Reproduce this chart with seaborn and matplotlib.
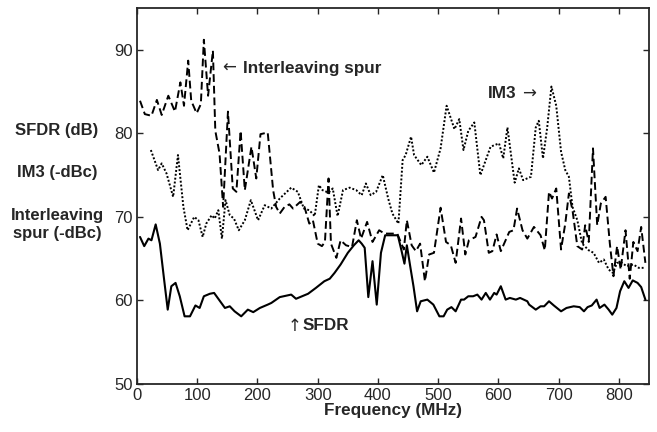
import matplotlib
matplotlib.use("Agg")
from matplotlib import pyplot as plt
import seaborn as sns
import pandas as pd

# Interleaving spur (dashed)
spur_freq = [5, 13, 24, 33, 41, 52, 63, 72, 78, 85, 90, 99, 106, 111, 118, 126, 130, 137, 143, 151,
             159, 165, 172, 179, 190, 198, 205, 217, 226, 231, 237, 245, 253, 259, 271, 278, 286, 292,
             300, 307, 312, 318, 322, 331, 338, 347, 357, 365, 372, 382, 391, 402, 411, 432, 443, 448,
             456, 463, 470, 478, 485, 493, 504, 513, 521, 529, 538, 545, 551, 562, 572, 576, 584, 590,
             597, 604, 618, 625, 631, 640, 648, 659, 670, 677, 684, 689, 696, 704, 711, 717, 723, 731,
             739, 744, 750, 757, 764, 770, 778, 785, 791, 797, 803, 811, 818, 824, 831, 837, 844]
spur_db = [83.9, 82.3, 82.1, 84.0, 82.2, 84.5, 82.6, 86.1, 83.3, 88.7, 83.9, 82.4, 83.5, 91.2, 84.5,
           89.9, 80.3, 77.6, 71.2, 82.6, 73.4, 73.0, 80.3, 73.2, 78.4, 74.6, 79.9, 80.1, 73.2, 71.2,
           70.4, 71.2, 71.5, 71.0, 71.8, 71.2, 69.2, 69.6, 66.8, 66.5, 67.0, 74.6, 66.8, 65.1, 67.2,
           66.6, 66.4, 69.6, 67.4, 69.4, 67.0, 68.4, 68.0, 68.0, 66.1, 69.6, 66.6, 65.9, 66.8, 62.3,
           65.5, 65.7, 71.1, 67.0, 66.6, 64.5, 69.8, 65.5, 67.2, 67.6, 70.0, 69.6, 65.7, 65.9, 67.9,
           65.9, 68.2, 68.4, 71.0, 68.4, 67.4, 68.8, 67.8, 66.0, 73.0, 72.2, 73.4, 66.1, 69.2, 72.8,
           70.8, 66.5, 66.1, 69.0, 67.0, 78.2, 69.0, 71.6, 72.4, 66.8, 62.9, 66.5, 63.7, 68.4, 62.6,
           67.0, 65.9, 68.8, 64.5]

# IM3 (dotted)
im3_freq = [23, 35, 41, 49, 60, 68, 77, 84, 95, 102, 109, 115, 124, 129, 135, 141, 147, 154, 161, 169,
            179, 189, 201, 212, 223, 237, 256, 267, 277, 286, 295, 302, 308, 318, 325, 333, 342, 353,
            364, 373, 380, 388, 397, 408, 417, 424, 434, 441, 446, 455, 460, 472, 482, 493, 504, 514,
            527, 535, 542, 550, 560, 570, 587, 601, 608, 615, 627, 634, 641, 654, 662, 667, 674, 681,
            688, 696, 704, 711, 717, 723, 731, 739, 750, 758, 767, 775, 783, 790, 797, 805, 813, 824,
            833, 841]
im3_db = [78.0, 75.6, 76.4, 75.2, 72.4, 77.4, 71.2, 68.4, 70.0, 69.6, 67.6, 69.2, 70.2, 69.8, 70.8,
          67.4, 72.0, 70.2, 69.8, 68.4, 69.6, 72.0, 69.6, 71.4, 71.0, 72.2, 73.5, 73.0, 71.0, 70.8,
          70.1, 73.8, 73.2, 72.9, 73.4, 70.1, 73.2, 73.5, 73.2, 72.6, 74.0, 72.6, 73.0, 75.0, 72.2,
          70.4, 69.2, 76.8, 77.4, 79.6, 77.4, 76.2, 77.2, 75.3, 78.2, 83.3, 80.5, 81.7, 78.0, 80.3,
          81.3, 75.0, 78.4, 78.8, 77.0, 80.7, 74.1, 75.8, 74.4, 74.8, 80.7, 81.5, 77.0, 80.7, 85.6,
          83.3, 77.8, 75.6, 74.8, 71.2, 69.6, 66.8, 66.0, 65.7, 64.5, 64.9, 63.7, 63.3, 64.5, 64.5,
          64.1, 64.3, 63.9, 63.9]

# SFDR (solid)
sfdr_freq = [5, 12, 19, 24, 31, 38, 45, 51, 57, 64, 71, 79, 88, 97, 104, 111, 121, 128, 136, 146, 154,
             162, 173, 184, 193, 204, 217, 223, 237, 256, 264, 274, 284, 297, 311, 320, 328, 338, 350,
             360, 368, 373, 378, 384, 391, 398, 405, 412, 433, 439, 444, 448, 454, 459, 465, 471, 482,
             492, 502, 509, 515, 522, 529, 538, 543, 550, 558, 565, 572, 579, 586, 593, 597, 604, 612,
             619, 629, 636, 648, 651, 662, 670, 676, 684, 692, 704, 713, 725, 735, 742, 748, 755, 763,
             768, 776, 783, 789, 796, 802, 809, 816, 823, 831, 837, 844]
sfdr_db = [67.6, 66.5, 67.4, 67.2, 69.1, 66.8, 62.5, 58.9, 61.7, 62.1, 60.5, 58.1, 58.1, 59.4, 59.1,
           60.5, 60.8, 60.9, 60.1, 59.1, 59.3, 58.7, 58.1, 58.9, 58.6, 59.1, 59.5, 59.7, 60.4, 60.7,
           60.2, 60.5, 60.8, 61.5, 62.3, 62.6, 63.3, 64.3, 65.7, 66.6, 67.2, 66.8, 66.3, 60.4, 64.7,
           59.5, 65.7, 67.8, 67.8, 66.0, 64.4, 66.6, 63.9, 61.7, 58.7, 59.9, 60.1, 59.5, 58.1, 58.1,
           58.9, 59.2, 58.7, 60.1, 60.1, 60.5, 60.5, 60.7, 60.1, 60.9, 60.1, 60.9, 60.7, 61.7, 60.1,
           60.3, 60.1, 60.3, 59.9, 59.5, 58.9, 59.3, 59.3, 59.9, 59.4, 58.7, 59.1, 59.3, 59.2, 58.7,
           59.2, 59.4, 60.1, 59.1, 59.5, 58.9, 58.3, 59.1, 61.1, 62.3, 61.5, 62.4, 62.1, 61.6, 60.1]

x_ticks = [0, 100, 200, 300, 400, 500, 600, 700, 800]
y_ticks = [50, 60, 70, 80, 90]

sns.set_style("ticks")
plt.rcParams['font.family'] = ['Liberation Sans', 'DejaVu Sans']
plt.rcParams['xtick.direction'] = 'in'
plt.rcParams['ytick.direction'] = 'in'

fig = plt.figure(figsize=(6.57, 4.32), dpi=100)
ax = fig.add_axes([137 / 657, 48 / 432, 512 / 657, 376 / 432])

df_spur = pd.DataFrame({'freq': spur_freq, 'val': spur_db})
df_im3 = pd.DataFrame({'freq': im3_freq, 'val': im3_db})
df_sfdr = pd.DataFrame({'freq': sfdr_freq, 'val': sfdr_db})

sns.lineplot(data=df_spur, x='freq', y='val', ax=ax, color='black', lw=1.4, linestyle=(0, (4, 2)))
sns.lineplot(data=df_im3, x='freq', y='val', ax=ax, color='black', lw=1.4, linestyle=(0, (1, 1)))
sns.lineplot(data=df_sfdr, x='freq', y='val', ax=ax, color='black', lw=1.5, linestyle='-')

ax.set_xlim(0, 850)
ax.set_ylim(50, 95)
ax.set_xticks(x_ticks)
ax.set_yticks(y_ticks)
ax.tick_params(labelsize=12, length=4, width=1, top=True, right=True, pad=3)
for s in ax.spines.values():
    s.set_linewidth(1.3)
ax.set_xlabel('Frequency (MHz)', fontsize=12.3, fontweight='bold', labelpad=0)
ax.set_ylabel('')

# annotations: arrows drawn in DejaVu Sans, words in Liberation Sans
arrow_kw = dict(fontsize=12, family=['DejaVu Sans'], va='center', ha='left')
word_kw = dict(fontsize=12.3, fontweight='bold', va='center', ha='left')
ax.text(141, 87.8, '\u2190', **arrow_kw)
ax.text(176, 87.8, 'Interleaving spur', **word_kw)
ax.text(583, 84.8, 'IM3', **word_kw)
ax.text(639, 84.8, '\u2192', **arrow_kw)
ax.text(250, 57.0, '\u2191', **arrow_kw)
ax.text(275, 57.0, 'SFDR', **word_kw)

lab_kw = dict(fontsize=12, fontweight='bold', ha='center', va='center')
fig.text(57 / 657, 1 - 130.5 / 432, 'SFDR (dB)', **lab_kw)
fig.text(57 / 657, 1 - 172 / 432, 'IM3 (-dBc)', **lab_kw)
fig.text(57 / 657, 1 - 224.5 / 432, 'Interleaving\nspur (-dBc)', linespacing=1.25, **lab_kw)

fig.savefig('out.png', dpi=100)
